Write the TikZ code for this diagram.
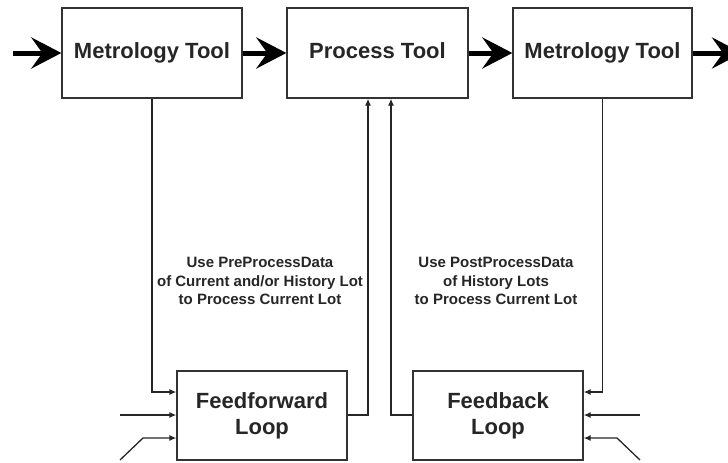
\documentclass[tikz,border=0pt]{standalone}
\usepackage{fontspec}
\setmainfont{Liberation Sans}
\usetikzlibrary{arrows.meta}
\begin{document}
\begin{tikzpicture}[x=1pt,y=-1pt,
  box/.style={draw=black!80,line width=1.3pt,fill=white,inner sep=0pt,font=\fontsize{22}{26}\selectfont\bfseries,text=black!85,align=center},
  tool/.style={box,text height=16pt,text depth=5pt,minimum height=90pt},
  loop/.style={box,minimum width=170pt,minimum height=89pt},
  big/.style={line width=5pt,-{Stealth[length=30pt,width=31pt,inset=11pt]}},
  conn/.style={line width=1.3pt,draw=black!85,-{Latex[length=7pt,width=6pt]}},
  note/.style={font=\fontsize{15}{18.5}\selectfont\bfseries,text=black!85,align=center}]
\useasboundingbox (0,0) rectangle (728,463);
\node[tool,minimum width=180pt] (m1) at (152,53) {Metrology Tool};
\node[tool,minimum width=181pt] (p) at (377.5,53) {Process Tool};
\node[tool,minimum width=179pt] (m2) at (602.5,53) {Metrology Tool};
\node[loop] (ff) at (262,415.5) {Feedforward\\Loop};
\node[loop] (fb) at (498,415.5) {Feedback\\Loop};
\coordinate (in0) at (13,53);
\coordinate (out0) at (742,53);
\draw[big] (in0) -- (m1.west);
\draw[big] (m1.east) -- (p.west);
\draw[big] (p.east) -- (m2.west);
\draw[big] (m2.east) -- (out0);
% feedforward
\draw[conn] (m1.south) |- (ff.west |- 0,392);
\coordinate (ffa) at (120,415);
\draw[conn] (ffa) -- (ff.west |- ffa);
\coordinate (ffb0) at (120,460);
\coordinate (ffb1) at (143,438);
\draw[conn] (ffb0) -- (ffb1) -- (ff.west |- ffb1);
\coordinate (ffo) at (368,415);
\draw[conn] (ff.east |- ffo) -- (ffo) -- (ffo |- p.south);
% feedback
\draw[conn] (m2.south) |- (fb.east |- 0,392);
\coordinate (fba) at (640,415);
\draw[conn] (fba) -- (fb.east |- fba);
\coordinate (fbb0) at (640,460);
\coordinate (fbb1) at (617,438);
\draw[conn] (fbb0) -- (fbb1) -- (fb.east |- fbb1);
\coordinate (fbo) at (391,415);
\draw[conn] (fb.west |- fbo) -- (fbo) -- (fbo |- p.south);
\node[note] (t1) at (260,281) {Use PreProcessData\\of Current and/or History Lot\\to Process Current Lot};
\node[note] (t2) at (496,281) {Use PostProcessData\\of History Lots\\to Process Current Lot};
\end{tikzpicture}
\end{document}
